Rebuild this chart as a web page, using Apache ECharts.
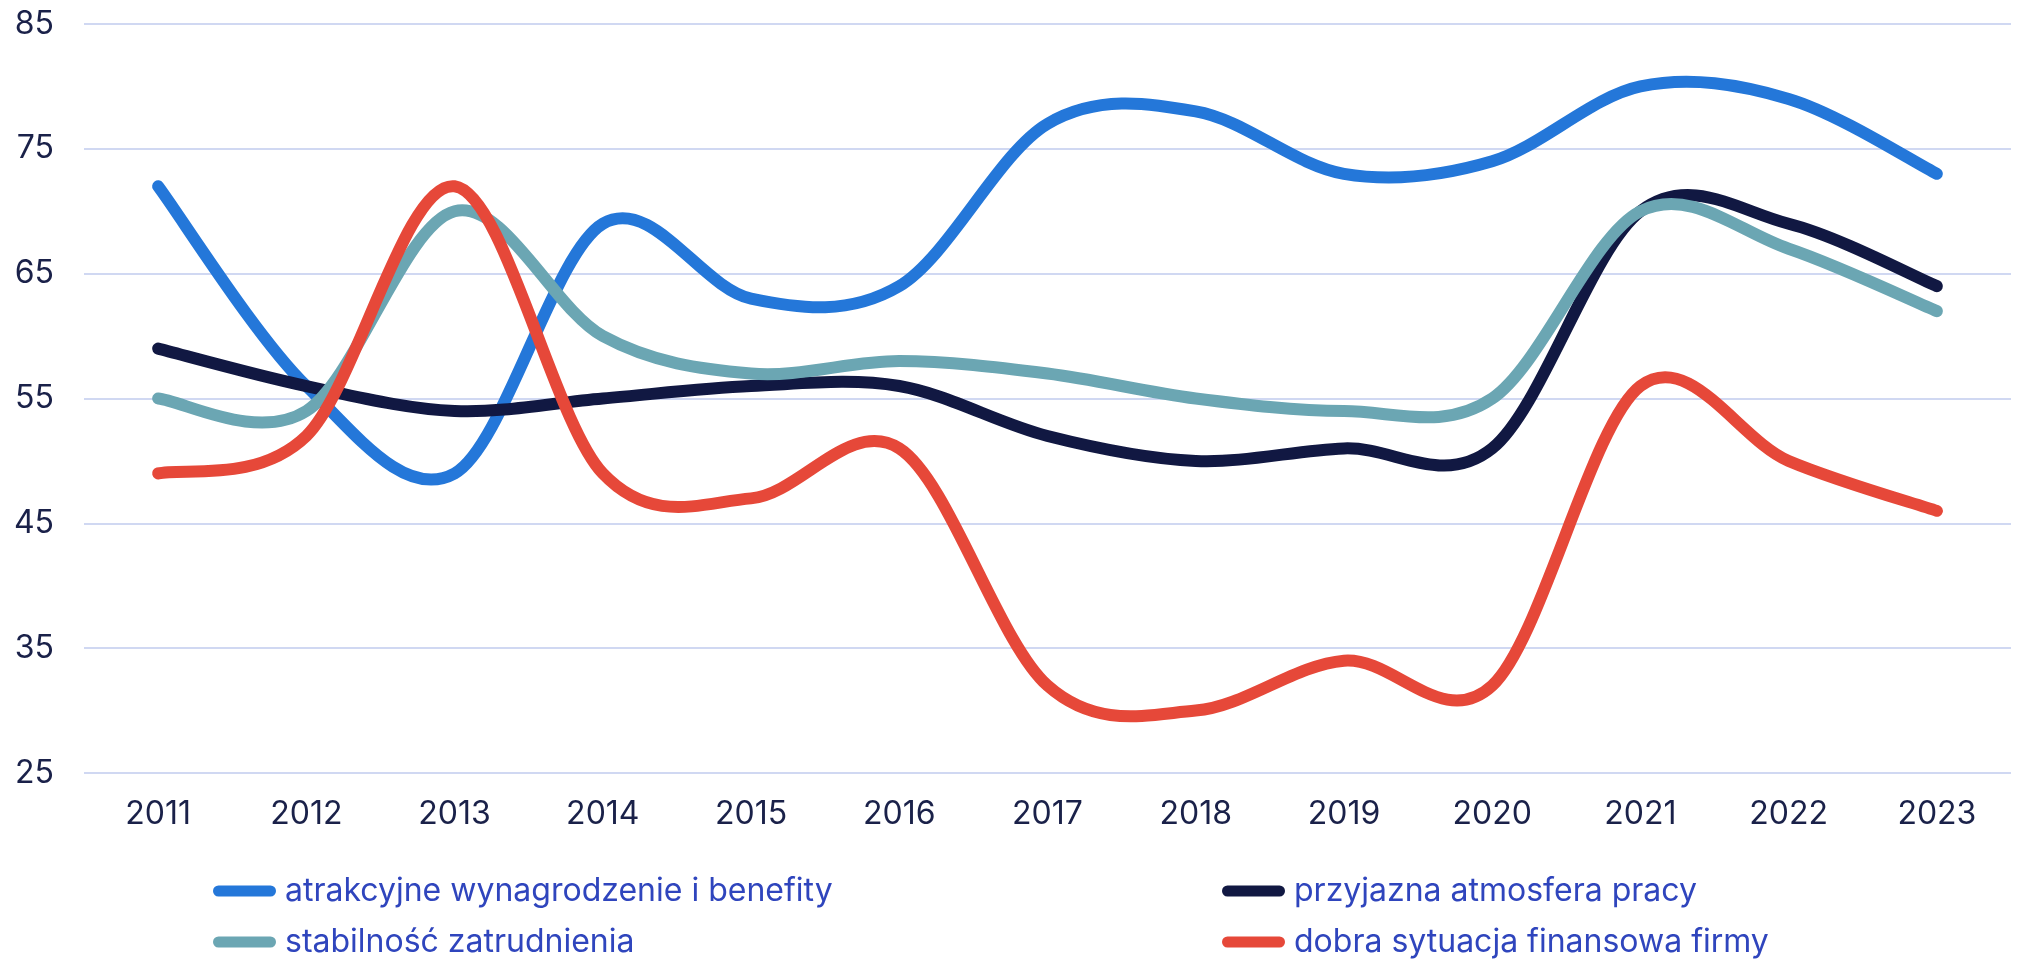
<!DOCTYPE html>
<html>
<head>
<meta charset="utf-8">
<script src="https://cdn.jsdelivr.net/npm/echarts@6/dist/echarts.min.js"></script>
<style>
  html, body { margin: 0; padding: 0; background: #fff; }
  #chart { width: 2019px; height: 960px; }
</style>
</head>
<body>
<div id="chart"></div>
<script>
// lata
const years = ['2011', '2012', '2013', '2014', '2015', '2016', '2017', '2018', '2019', '2020', '2021', '2022', '2023'];

// wartości serii
const wynagrodzenie = [72, 56, 49, 69, 63, 64, 77, 78, 73, 74, 80, 79, 73];
const atmosfera = [59, 56, 54, 55, 56, 56, 52, 50, 51, 51, 70, 69, 64];
const stabilnosc = [55, 54, 70, 60, 57, 58, 57, 55, 54, 55, 70, 67, 62];
const finanse = [49, 52, 72, 49, 47, 51, 32, 30, 34, 32, 56, 50, 46];

const names = [
  'atrakcyjne wynagrodzenie i benefity',
  'przyjazna atmosfera pracy',
  'stabilność zatrudnienia',
  'dobra sytuacja finansowa firmy',
];
const colors = ['#2477d9', '#111842', '#6ba6b3', '#e64839'];
const values = [wynagrodzenie, atmosfera, stabilnosc, finanse];

const chart = echarts.init(document.getElementById('chart'));

// krzywa Catmull-Rom przez punkty z osi wykresu
function renderSmooth(params, api) {
  if (params.dataIndex !== 0) return null;
  const vals = values[params.seriesIndex];
  const pts = vals.map((v, i) => api.coord([years[i], v]));
  let d = 'M' + pts[0][0] + ',' + pts[0][1];
  for (let i = 0; i < pts.length - 1; i++) {
    const p0 = pts[Math.max(i - 1, 0)];
    const p1 = pts[i];
    const p2 = pts[i + 1];
    const p3 = pts[Math.min(i + 2, pts.length - 1)];
    const c1x = p1[0] + (p2[0] - p0[0]) / 6;
    const c1y = p1[1] + (p2[1] - p0[1]) / 6;
    const c2x = p2[0] - (p3[0] - p1[0]) / 6;
    const c2y = p2[1] - (p3[1] - p1[1]) / 6;
    d += 'C' + c1x + ',' + c1y + ',' + c2x + ',' + c2y + ',' + p2[0] + ',' + p2[1];
  }
  return {
    type: 'path',
    shape: { pathData: d },
    style: {
      fill: 'none',
      stroke: colors[params.seriesIndex],
      lineWidth: 12,
      lineCap: 'round',
      lineJoin: 'round',
    },
  };
}

const legendBase = {
  padding: 0,
  itemWidth: 63,
  itemHeight: 11,
  icon: 'path://M5.5,0H57.5A5.5,5.5,0,0,1,57.5,11H5.5A5.5,5.5,0,0,1,5.5,0Z',
  itemStyle: { borderWidth: 0 },
  textStyle: {
    fontFamily: 'Inter',
    fontSize: 32,
    lineHeight: 34,
    color: '#2f45bd',
    padding: [0, 0, 0, 4],
  },
  selectedMode: false,
};
const legendPos = [[213, 874], [1222, 874], [213, 925], [1222, 925]];

const option = {
  animation: false,
  grid: {
    left: 84,
    right: 8,
    top: 24,
    bottom: 187,
  },
  legend: names.map((name, i) =>
    Object.assign({}, legendBase, { left: legendPos[i][0], top: legendPos[i][1], data: [name] })
  ),
  xAxis: {
    type: 'category',
    data: years,
    boundaryGap: true,
    axisLine: { show: false },
    axisTick: { show: false },
    axisLabel: {
      margin: 25,
      fontFamily: 'Inter',
      fontSize: 32,
      color: '#1a2149',
    },
  },
  yAxis: {
    type: 'value',
    min: 25,
    max: 85,
    interval: 10,
    axisLine: { show: false },
    axisTick: { show: false },
    axisLabel: {
      margin: 30,
      fontFamily: 'Inter',
      fontSize: 32,
      color: '#1a2149',
    },
    splitLine: {
      lineStyle: { color: '#d0d8f2', width: 2 },
    },
  },
  series: names.map((name, i) => ({
    name: name,
    type: 'custom',
    renderItem: renderSmooth,
    itemStyle: { color: colors[i] },
    data: values[i].map((v, j) => [years[j], v]),
    encode: { x: 0, y: 1 },
  })),
};

chart.setOption(option);
</script>
</body>
</html>
